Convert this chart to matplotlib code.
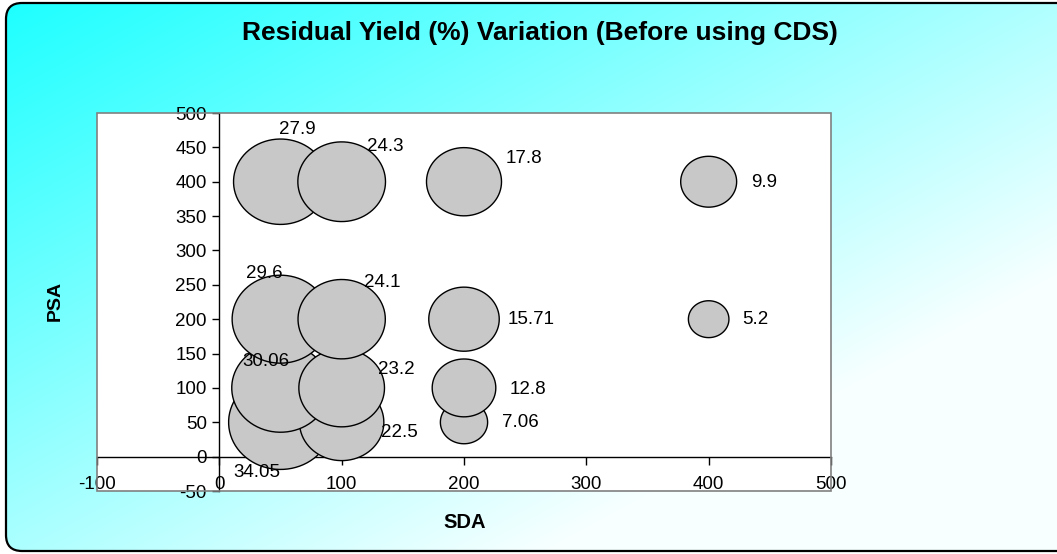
import numpy as np
import matplotlib
matplotlib.use('Agg')
from matplotlib import pyplot as plt
from matplotlib.patches import FancyBboxPatch, Rectangle
from matplotlib.path import Path

# SDA / PSA grid and residual yield (%) values
sda = [50, 100, 200, 400,
       50, 100, 200, 400,
       50, 100, 200,
       50, 100, 200]
psa = [400, 400, 400, 400,
       200, 200, 200, 200,
       100, 100, 100,
       50, 50, 50]
yield_pct = [27.9, 24.3, 17.8, 9.9,
             29.6, 24.1, 15.71, 5.2,
             30.06, 23.2, 12.8,
             34.05, 22.5, 7.06]
labels = ['27.9', '24.3', '17.8', '9.9',
          '29.6', '24.1', '15.71', '5.2',
          '30.06', '23.2', '12.8',
          '34.05', '22.5', '7.06']

# where each data label sits relative to its bubble (pixels, right / down)
label_offsets = [(17, -52), (44, -35), (60, -23), (55, 1),
                 (-16, -46), (41, -37), (67, 0), (47, 0),
                 (-15, -26), (55, -18), (64, 2),
                 (-24, 50), (58, 10), (56, 0)]

plt.rcParams['font.family'] = ['Liberation Sans', 'DejaVu Sans']
plt.rcParams['axes.unicode_minus'] = False

W, H = 1057, 554
fig = plt.figure(figsize=(W / 100, H / 100), dpi=100)
fig.patch.set_facecolor('white')

# background: rounded frame with a cyan -> white diagonal gradient
bg = fig.add_axes([0, 0, 1, 1])
bg.set_xlim(0, W)
bg.set_ylim(H, 0)
bg.axis('off')
xx, yy = np.meshgrid(np.arange(W), np.arange(H))
red = np.clip(28 + 0.14 * xx + 0.26 * yy, 0, 248) / 255.0
grad = np.dstack([red, np.ones_like(red), np.ones_like(red)])
img = bg.imshow(grad, extent=(0, W, H, 0), aspect='auto', zorder=0)
frame = FancyBboxPatch((6, 3), W + 40, 548, boxstyle='round,pad=0,rounding_size=16',
                       facecolor='none', edgecolor='black', linewidth=1.6, zorder=2)
bg.add_patch(frame)
img.set_clip_path(frame)

ax = fig.add_axes([97 / W, 63 / H, 734 / W, 378 / H])
ax.set_facecolor('white')
ax.set_xlim(-100, 500)
ax.set_ylim(-50, 500)

# plot area border
ax.add_patch(Rectangle((0, 0), 1, 1, transform=ax.transAxes, fill=False,
                       edgecolor='#808080', linewidth=1.2, zorder=5, clip_on=False))

for side in ['top', 'right']:
    ax.spines[side].set_visible(False)
ax.spines['left'].set_position(('data', 0))
ax.spines['bottom'].set_position(('data', 0))
for side in ['left', 'bottom']:
    ax.spines[side].set_color('black')
    ax.spines[side].set_linewidth(1.0)
    ax.spines[side].set_zorder(1)

ax.set_xticks(np.arange(-100, 501, 100))
ax.set_yticks(np.arange(-50, 501, 50))
ax.tick_params(axis='x', direction='out', length=6, width=1, pad=8, labelsize=13.5)
ax.tick_params(axis='y', direction='out', length=5, width=1, pad=4, labelsize=13.5)

# elliptical bubble marker, a bit wider than tall
t = np.linspace(0, 2 * np.pi, 80)
ellipse = Path(np.column_stack([1.1 * np.cos(t), np.sin(t)]), closed=True)

# Excel stacks the bubbles row by row (low PSA first), left to right
order = np.lexsort((sda, psa))
xs = np.array(sda)[order]
ys = np.array(psa)[order]
vals = np.array(yield_pct)[order]
ax.scatter(xs, ys, s=vals * 164, marker=ellipse, facecolor='#c8c8c8',
           edgecolor='black', linewidth=1.0, zorder=3, clip_on=False)

for x, y, lab, (dx, dy) in zip(sda, psa, labels, label_offsets):
    ax.annotate(lab, (x, y), xytext=(dx, -dy), textcoords='offset pixels',
                ha='center', va='center', fontsize=13.5, zorder=4)

fig.text(540 / W, 1 - 33 / H, 'Residual Yield (%) Variation (Before using CDS)',
         ha='center', va='center', fontsize=19, fontweight='bold')
fig.text(465 / W, 1 - 522 / H, 'SDA', ha='center', va='center',
         fontsize=14.5, fontweight='bold')
fig.text(55 / W, 1 - 301 / H, 'PSA', ha='center', va='center',
         fontsize=14, fontweight='bold', rotation=90)

fig.savefig('out.png', dpi=100)
